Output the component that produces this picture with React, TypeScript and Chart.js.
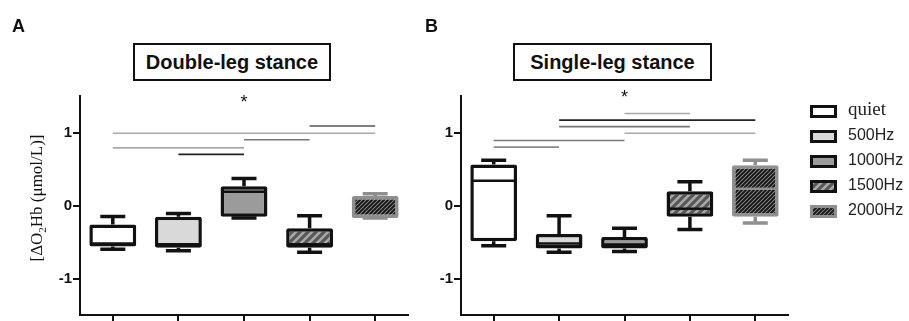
import React, { useEffect, useRef } from 'react';
import { Chart, registerables } from 'chart.js';

Chart.register(...registerables);

// ---------- data ----------
const categories = ['quiet', '500Hz', '1000Hz', '1500Hz', '2000Hz'];
const yTickValues = [-1, 0, 1];

// Panel A: Double-leg stance
const doubleMin = [-0.6, -0.62, -0.17, -0.64, -0.17];
const doubleQ1 = [-0.56, -0.58, -0.155, -0.58, -0.17];
const doubleMedian = [-0.52, -0.53, 0.19, -0.53, -0.15];
const doubleQ3 = [-0.26, -0.155, 0.265, -0.31, 0.13];
const doubleMax = [-0.15, -0.11, 0.37, -0.14, 0.16];

// Panel B: Single-leg stance
const singleMin = [-0.55, -0.64, -0.63, -0.33, -0.24];
const singleQ1 = [-0.49, -0.59, -0.59, -0.155, -0.155];
const singleMedian = [0.34, -0.52, -0.535, -0.045, 0.23];
const singleQ3 = [0.56, -0.39, -0.43, 0.195, 0.55];
const singleMax = [0.62, -0.14, -0.31, 0.325, 0.62];

// significance bars (category index from / to, y level)
const doubleSigFrom = [3, 0, 2, 0, 1];
const doubleSigTo = [4, 4, 3, 2, 2];
const doubleSigY = [1.09, 0.99, 0.9, 0.79, 0.7];
const singleSigFrom = [2, 1, 1, 2, 0, 0];
const singleSigTo = [3, 4, 3, 4, 2, 1];
const singleSigY = [1.26, 1.17, 1.08, 0.99, 0.89, 0.8];

const doubleStarIndex = 2;
const doubleStarY = 1.34;
const singleStarIndex = 2;
const singleStarY = 1.4;

// ---------- styles ----------
const SANS = "'Liberation Sans', Arial, Helvetica, sans-serif";
const SERIF = "'Liberation Serif', 'Times New Roman', Times, serif";
const doubleSigColors = ['#555555', '#a8a8a8', '#777777', '#a8a8a8', '#222222'];
const singleSigColors = ['#a8a8a8', '#222222', '#777777', '#a8a8a8', '#777777', '#8a8a8a'];
const boxBorders = ['#111111', '#111111', '#111111', '#111111', '#8f8f8f'];

function makeHatch(size: number, bg: string, fg: string, lw: number) {
  const c = document.createElement('canvas');
  c.width = size;
  c.height = size;
  const g = c.getContext('2d')!;
  g.fillStyle = bg;
  g.fillRect(0, 0, size, size);
  g.strokeStyle = fg;
  g.lineWidth = lw;
  g.beginPath();
  g.moveTo(0, size);
  g.lineTo(size, 0);
  g.moveTo(-size / 2, size / 2);
  g.lineTo(size / 2, -size / 2);
  g.moveTo(size / 2, size * 1.5);
  g.lineTo(size * 1.5, size / 2);
  g.stroke();
  return g.createPattern(c, 'repeat')!;
}

const boxExtras = {
  id: 'boxExtras',
  afterDatasetsDraw(chart: any, _a: any, opts: any) {
    const { ctx } = chart;
    const ys = chart.scales.y;
    const meta = chart.getDatasetMeta(0);
    const st = opts.stats;
    meta.data.forEach((bar: any, i: number) => {
      const x = bar.x;
      const w = bar.width;
      const cap = 25;
      const pMin = ys.getPixelForValue(st.min[i]);
      const pQ1 = ys.getPixelForValue(st.q1[i]);
      const pMed = ys.getPixelForValue(st.med[i]);
      const pQ3 = ys.getPixelForValue(st.q3[i]);
      const pMax = ys.getPixelForValue(st.max[i]);
      ctx.save();
      ctx.strokeStyle = opts.colors[i];
      ctx.lineWidth = 3.5;
      ctx.beginPath();
      ctx.moveTo(x, pQ3);
      ctx.lineTo(x, pMax);
      ctx.moveTo(x - cap / 2, pMax);
      ctx.lineTo(x + cap / 2, pMax);
      ctx.moveTo(x, pQ1);
      ctx.lineTo(x, pMin);
      ctx.moveTo(x - cap / 2, pMin);
      ctx.lineTo(x + cap / 2, pMin);
      ctx.stroke();
      ctx.lineWidth = 2.5;
      ctx.beginPath();
      ctx.moveTo(x - w / 2 + 2, pMed);
      ctx.lineTo(x + w / 2 - 2, pMed);
      ctx.stroke();
      ctx.restore();
    });
  },
};

const annotations = {
  id: 'annotations',
  afterDraw(chart: any, _a: any, opts: any) {
    const { ctx } = chart;
    const xs = chart.scales.x;
    const ys = chart.scales.y;
    ctx.save();
    ctx.fillStyle = '#111';
    ctx.font = `18px ${SANS}`;
    ctx.textAlign = 'center';
    ctx.textBaseline = 'alphabetic';
    ctx.fillText('*', xs.getPixelForValue(opts.starIndex), ys.getPixelForValue(opts.starY));

    if (opts.yTitle) {
      ctx.save();
      ctx.translate(37, 198);
      ctx.rotate(-Math.PI / 2);
      ctx.textAlign = 'left';
      const big = `17px ${SERIF}`;
      const small = `11px ${SERIF}`;
      const p1 = '[ΔO';
      const p2 = '2';
      const p3 = 'Hb (μmol/L)]';
      ctx.font = big;
      const w1 = ctx.measureText(p1).width;
      const w3 = ctx.measureText(p3).width;
      ctx.font = small;
      const w2 = ctx.measureText(p2).width;
      let x = -(w1 + w2 + w3) / 2;
      const base = 5;
      ctx.font = big;
      ctx.fillText(p1, x, base);
      x += w1;
      ctx.font = small;
      ctx.fillText(p2, x, base + 4);
      x += w2;
      ctx.font = big;
      ctx.fillText(p3, x, base);
      ctx.restore();
    }

    if (opts.legend) {
      const lx = opts.legend.x;
      const tx = opts.legend.textX;
      categories.forEach((name, i) => {
        const cy = opts.legend.top + i * opts.legend.step;
        ctx.fillStyle = opts.legend.fills[i];
        ctx.fillRect(lx, cy - 6, 27, 13);
        ctx.strokeStyle = boxBorders[i];
        ctx.lineWidth = 3;
        ctx.strokeRect(lx + 1.5, cy - 6 + 1.5, 24, 10);
        ctx.fillStyle = '#222';
        ctx.textAlign = 'left';
        ctx.textBaseline = 'middle';
        ctx.font = i === 0 ? `19px ${SERIF}` : `16px ${SANS}`;
        ctx.fillText(name, tx, cy + (i === 0 ? -1 : 0));
      });
    }
    ctx.restore();
  },
};

function buildChart(
  canvas: HTMLCanvasElement,
  stats: any,
  sigFrom: number[],
  sigTo: number[],
  sigY: number[],
  sigColors: string[],
  fills: any[],
  padRight: number,
  yWidth: number,
  extras: any
) {
  const sigSets = sigFrom.map((f, i) => ({
    type: 'line' as const,
    data: [
      { x: categories[f], y: sigY[i] },
      { x: categories[sigTo[i]], y: sigY[i] },
    ],
    borderColor: sigColors[i],
    borderWidth: 1.6,
    pointRadius: 0,
    fill: false,
  }));
  return new Chart(canvas, {
    type: 'bar',
    data: {
      labels: categories,
      datasets: [
        {
          type: 'bar' as const,
          data: categories.map((_, i) => [stats.q1[i], stats.q3[i]]) as any,
          backgroundColor: fills,
          borderColor: boxBorders,
          borderWidth: 3.5,
          borderRadius: 2,
          borderSkipped: false,
          barPercentage: 0.715,
          categoryPercentage: 1,
        },
        ...(sigSets as any),
      ],
    },
    options: {
      animation: false,
      responsive: false,
      devicePixelRatio: 1,
      events: [],
      layout: { padding: { left: 0, top: 96, right: padRight, bottom: 0 } },
      plugins: {
        legend: { display: false },
        tooltip: { enabled: false },
        boxExtras: { stats, colors: boxBorders },
        annotations: extras,
      } as any,
      scales: {
        x: {
          type: 'category',
          offset: true,
          grid: {
            display: true,
            drawOnChartArea: false,
            drawTicks: true,
            tickLength: 6,
            offset: false,
            color: '#111',
            lineWidth: 2,
          },
          border: { display: true, color: '#111', width: 2 },
          ticks: { display: false },
          afterFit: (s: any) => {
            s.height = 6;
            s.paddingLeft = 0;
            s.paddingRight = 0;
          },
        },
        y: {
          type: 'linear',
          min: -1.5,
          max: 1.5,
          afterBuildTicks: (s: any) => {
            s.ticks = yTickValues.map((v) => ({ value: v }));
          },
          grid: {
            drawOnChartArea: false,
            drawTicks: true,
            tickLength: 7,
            color: '#111',
            lineWidth: 2,
          },
          border: { display: true, color: '#111', width: 2 },
          ticks: {
            color: '#111',
            padding: 1,
            font: { family: SANS, size: 15, weight: 'bold' },
            callback: (v: any) => String(v),
          },
          afterFit: (s: any) => {
            s.width = yWidth;
            s.paddingTop = 0;
            s.paddingBottom = 0;
          },
        },
      } as any,
    },
    plugins: [boxExtras as any, annotations as any],
  });
}

export default function App() {
  const refA = useRef<HTMLCanvasElement>(null);
  const refB = useRef<HTMLCanvasElement>(null);

  useEffect(() => {
    const fills = [
      '#ffffff',
      '#d9d9d9',
      '#9b9b9b',
      makeHatch(8, '#585858', '#a9a9a9', 2.5),
      makeHatch(4, '#9a9a9a', '#1a1a1a', 2),
    ];
    const statsA = { min: doubleMin, q1: doubleQ1, med: doubleMedian, q3: doubleQ3, max: doubleMax };
    const statsB = { min: singleMin, q1: singleQ1, med: singleMedian, q3: singleQ3, max: singleMax };
    const a = buildChart(
      refA.current!,
      statsA,
      doubleSigFrom,
      doubleSigTo,
      doubleSigY,
      doubleSigColors,
      fills,
      2,
      80,
      { starIndex: doubleStarIndex, starY: doubleStarY, yTitle: true }
    );
    const b = buildChart(
      refB.current!,
      statsB,
      singleSigFrom,
      singleSigTo,
      singleSigY,
      singleSigColors,
      fills,
      121,
      41,
      {
        starIndex: singleStarIndex,
        starY: singleStarY,
        legend: { x: 390, textX: 428, top: 111, step: 25, fills },
      }
    );
    return () => {
      a.destroy();
      b.destroy();
    };
  }, []);

  const titleStyle: React.CSSProperties = {
    position: 'absolute',
    top: 43,
    height: 38,
    boxSizing: 'border-box',
    border: '2px solid #111',
    display: 'flex',
    alignItems: 'center',
    justifyContent: 'center',
    font: `bold 20px ${SANS}`,
    color: '#111',
    background: '#fff',
  };
  const letterStyle: React.CSSProperties = {
    position: 'absolute',
    top: 17,
    font: `bold 18px ${SANS}`,
    lineHeight: '18px',
    color: '#111',
  };

  return (
    <div
      style={{
        position: 'fixed',
        left: 0,
        top: 0,
        width: 909,
        height: 321,
        background: '#fff',
        overflow: 'hidden',
      }}
    >
      <canvas ref={refA} width={410} height={321} style={{ position: 'absolute', left: 0, top: 0 }} />
      <canvas ref={refB} width={489} height={321} style={{ position: 'absolute', left: 420, top: 0 }} />
      <div style={{ ...letterStyle, left: 12 }}>A</div>
      <div style={{ ...letterStyle, left: 425 }}>B</div>
      <div style={{ ...titleStyle, left: 133, width: 198 }}>Double-leg stance</div>
      <div style={{ ...titleStyle, left: 513, width: 199 }}>Single-leg stance</div>
    </div>
  );
}
